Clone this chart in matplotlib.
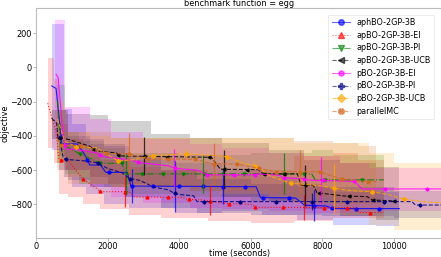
import numpy as np
import matplotlib
matplotlib.use("Agg")
import matplotlib.pyplot as plt

plt.rcParams['font.family'] = ['DejaVu Sans']

labels = ["aphBO-2GP-3B", "apBO-2GP-3B-EI", "apBO-2GP-3B-PI", "apBO-2GP-3B-UCB",
          "pBO-2GP-3B-EI", "pBO-2GP-3B-PI", "pBO-2GP-3B-UCB", "parallelMC"]
colors = ["blue", "red", "green", "black", "magenta", "navy", "orange", "chocolate"]
styles = ["-", ":", "-.", "--", "-", "--", "--", "--"]
markers = ["o", "^", "v", "<", "h", "P", "D", "X"]

# ---- mean curves (time, objective) ----
blue_t = [440, 560, 720, 1150, 1350, 1500, 1800, 1950, 2550, 2650, 6150, 6270, 7250, 7500, 8100, 8300, 10150]
blue_m = [-108, -122, -447, -447, -505, -570, -570, -613, -613, -693, -697, -760, -763, -805, -810, -825, -825]
red_t = [326, 400, 560, 640, 900, 1300, 1650, 1800, 2600, 2750, 4100, 4200, 4700, 4850, 5300, 6000, 6150, 8900, 9050, 9716]
red_m = [-209, -260, -380, -537, -545, -650, -700, -726, -726, -757, -760, -770, -775, -780, -795, -800, -817, -820, -848, -848]
green_t = [600, 640, 700, 1000, 1200, 1600, 1800, 2400, 2500, 7700, 7800, 9716]
green_m = [-190, -330, -440, -480, -502, -540, -560, -560, -622, -622, -657, -657]
black_t = [438, 578, 610, 900, 1500, 1650, 2250, 2350, 4900, 5150, 6200, 6350, 7300, 7400, 7750, 7850, 8600, 9250, 9400, 10050]
black_m = [-297, -326, -408, -420, -460, -486, -500, -517, -525, -595, -597, -622, -622, -687, -690, -732, -751, -755, -775, -780]
mag_t = [560, 620, 760, 820, 1100, 1700, 1900, 2600, 2900, 3700, 3900, 4500, 4800, 6100, 6200, 6800, 6900, 7400, 7600, 8900, 9100, 11350]
mag_m = [-40, -60, -400, -478, -478, -500, -521, -540, -556, -575, -590, -600, -628, -628, -622, -630, -644, -650, -658, -666, -710, -710]
navy_t = [650, 760, 830, 1300, 1700, 2000, 2400, 2600, 2900, 3300, 3700, 3900, 4400, 4500, 10500, 10600, 11350]
navy_m = [-400, -530, -537, -545, -556, -590, -615, -648, -660, -700, -715, -740, -750, -784, -784, -804, -804]
orng_t = [600, 800, 1100, 1700, 2000, 2300, 2700, 3263, 4196, 5000, 5333, 5800, 6126, 6600, 7124, 7900, 8317, 8800, 9389, 9900, 10275, 11000, 11350]
orng_m = [-300, -430, -463, -470, -510, -546, -540, -515, -505, -515, -521, -560, -574, -640, -677, -690, -706, -720, -726, -745, -771, -788, -790]
pmc_t = [600, 700, 1259, 1958, 2611, 3142, 3700, 4430, 4962, 5613, 6227, 6694, 7385, 7925, 8550, 9277, 9500]
pmc_m = [-420, -453, -457, -502, -505, -537, -535, -537, -564, -564, -589, -609, -609, -609, -654, -667, -667]

# ---- marker times ----
blue_mk = [700, 1436, 2042, 2694, 3282, 4000, 4653, 5212, 5827, 6331, 7068, 7776, 8280, 8942, 9576]
red_mk = [700, 1305, 1790, 2490, 3096, 3700, 4261, 4850, 5380, 6126, 6900, 8056, 8690, 9343]
green_mk = [1230, 1790, 2400, 2960, 3560, 4120, 4680, 5220, 5800, 6380, 6920, 7480, 8060, 9120]
black_mk = [650, 1604, 2303, 3021, 3655, 4820, 5259, 5893, 6378, 6918, 7506, 7897, 8737, 9408, 10000]
mag_mk = [800, 1790, 2862, 3888, 4774, 5520, 6126, 6918, 7497, 8019, 8877, 9762, 10928]
navy_mk = [830, 1744, 2630, 3870, 4681, 5706, 6694, 7711, 8690, 9716, 10713]
orng_mk = [1119, 2303, 3263, 4196, 5333, 6126, 7124, 8317, 9389, 10275]
pmc_mk = [700, 1259, 1958, 2611, 3142, 3700, 4430, 4962, 5613, 6227, 6694, 7385, 7925, 8550, 9277]

# ---- error bars (time, half length) ----
blue_eb_t = [2680, 3870, 5212, 7776]
blue_eb_e = [100, 150, 100, 90]
red_eb_t = [2490, 4850, 7478]
red_eb_e = [90, 85, 75]
green_eb_t = [2517, 4662, 6937]
green_eb_e = [125, 110, 120]
black_eb_t = [3021, 5259, 7506]
black_eb_e = [112, 110, 120]
mag_eb_t = [3850, 7950]
mag_eb_e = [110, 135]
navy_eb_t = [7711]
navy_eb_e = [50]
orng_eb_t = [4196, 8317]
orng_eb_e = [25, 140]
pmc_eb_t = [2611, 4962, 7385]
pmc_eb_e = [120, 120, 125]

# ---- shaded bands (step-post) ----
blue_bt = [440, 780, 1000, 1400, 1900, 2600, 3900, 5200, 6300, 7300, 8300, 9500, 10150]
blue_hi = [255, -240, -330, -420, -460, -540, -560, -600, -640, -700, -730, -730, -730]
blue_lo = [-480, -640, -700, -740, -800, -820, -850, -840, -860, -890, -920, -925, -925]
red_bt = [326, 500, 650, 900, 1300, 1800, 2600, 3500, 4800, 6000, 7200, 8300, 9000, 9716]
red_hi = [54, -70, -330, -420, -480, -540, -580, -600, -620, -600, -520, -500, -540, -540]
red_lo = [-470, -560, -740, -760, -800, -830, -860, -880, -900, -910, -900, -880, -880, -880]
green_bt = [600, 800, 1200, 1900, 2500, 4000, 6000, 7700, 8300, 9716]
green_hi = [-100, -380, -430, -470, -500, -510, -500, -480, -511, -511]
green_lo = [-560, -620, -680, -700, -740, -760, -780, -790, -790, -790]
black_bt = [438, 650, 850, 1500, 2000, 3200, 4300, 5200, 6500, 7500, 8500, 9500, 10150]
black_hi = [-250, -250, -270, -280, -310, -390, -414, -440, -480, -540, -560, -580, -580]
black_lo = [-420, -520, -600, -640, -680, -700, -720, -760, -780, -830, -870, -890, -890]
mag_bt = [530, 800, 1500, 2100, 3000, 4300, 5200, 6500, 7500, 8500, 9300, 11350]
mag_hi = [280, -230, -300, -380, -420, -450, -470, -500, -520, -560, -590, -590]
mag_lo = [-420, -600, -700, -760, -790, -820, -830, -840, -850, -850, -840, -840]
navy_bt = [650, 900, 1500, 2500, 3500, 4500, 6000, 8000, 10000, 11350]
navy_hi = [-250, -400, -450, -520, -600, -650, -680, -700, -720, -725]
navy_lo = [-600, -660, -700, -760, -820, -850, -860, -870, -880, -885]
orng_bt = [600, 800, 1500, 2100, 4300, 5150, 6500, 7200, 8300, 9300, 10000, 11350]
orng_hi = [-200, -380, -400, -414, -414, -414, -414, -440, -443, -500, -560, -580]
orng_lo = [-560, -640, -680, -700, -720, -740, -760, -800, -860, -920, -950, -950]
pmc_bt = [600, 900, 2100, 5150, 6500, 7200, 8300, 9000, 9500]
pmc_hi = [-250, -380, -414, -414, -414, -430, -443, -460, -460]
pmc_lo = [-600, -680, -700, -720, -740, -760, -800, -800, -800]

series = [
    (blue_t, blue_m, blue_mk, blue_eb_t, blue_eb_e, blue_bt, blue_lo, blue_hi),
    (red_t, red_m, red_mk, red_eb_t, red_eb_e, red_bt, red_lo, red_hi),
    (green_t, green_m, green_mk, green_eb_t, green_eb_e, green_bt, green_lo, green_hi),
    (black_t, black_m, black_mk, black_eb_t, black_eb_e, black_bt, black_lo, black_hi),
    (mag_t, mag_m, mag_mk, mag_eb_t, mag_eb_e, mag_bt, mag_lo, mag_hi),
    (navy_t, navy_m, navy_mk, navy_eb_t, navy_eb_e, navy_bt, navy_lo, navy_hi),
    (orng_t, orng_m, orng_mk, orng_eb_t, orng_eb_e, orng_bt, orng_lo, orng_hi),
    (pmc_t, pmc_m, pmc_mk, pmc_eb_t, pmc_eb_e, pmc_bt, pmc_lo, pmc_hi),
]

fig = plt.figure(figsize=(4.41, 2.57), dpi=100)
ax = fig.add_axes([36 / 441, 19.3 / 257, 1.0 - 36 / 441 + 0.003, (257 - 19.3 - 8.3) / 257])

FS = 5.9
for (t, m, mk, ebt, ebe, bt, lo, hi), c in zip(series, colors):
    ax.fill_between(bt, lo, hi, step='post', color=c, alpha=0.18, linewidth=0)

for (t, m, mk, ebt, ebe, bt, lo, hi), c, ls, mkr, lab in zip(series, colors, styles, markers, labels):
    ax.plot(t, m, color=c, ls=ls, lw=0.8, alpha=0.85)
    mk_y = np.interp(mk, t, m)
    ax.plot(mk, mk_y, ls='none', marker=mkr, color=c, ms=2.1, alpha=0.9)
    eb_y = np.interp(ebt, t, m)
    ax.errorbar(ebt, eb_y, yerr=ebe, fmt='none', ecolor=c, elinewidth=0.9, alpha=0.75)
    ax.plot([], [], color=c, ls=ls, lw=0.8, alpha=0.6, marker=mkr, ms=4, label=lab)

ax.set_xlim(0, 11350)
ax.set_ylim(-995, 346)
ax.set_xticks([0, 2000, 4000, 6000, 8000, 10000])
ax.set_yticks([200, 0, -200, -400, -600, -800])
ax.tick_params(labelsize=FS, length=2.0, width=0.6, color='#aaaaaa', pad=0.8)
for s in ax.spines.values():
    s.set_color('#bbbbbb')
    s.set_linewidth(0.8)
ax.spines['right'].set_visible(False)
ax.set_xlabel("time (seconds)", fontsize=FS)
ax.xaxis.set_label_coords(0.5, -0.05)
ax.set_ylabel("objective", fontsize=FS, labelpad=0.0)
ax.set_title("benchmark function = egg", fontsize=FS, pad=1.2)

leg = ax.legend(loc='upper right', bbox_to_anchor=(0.99, 0.99), fontsize=5.8, frameon=True,
                labelspacing=0.45, handlelength=2.2, borderpad=0.45, handletextpad=0.8)
leg.get_frame().set_linewidth(0.5)
leg.get_frame().set_edgecolor('#dddddd')

fig.savefig("out.png", dpi=100)
